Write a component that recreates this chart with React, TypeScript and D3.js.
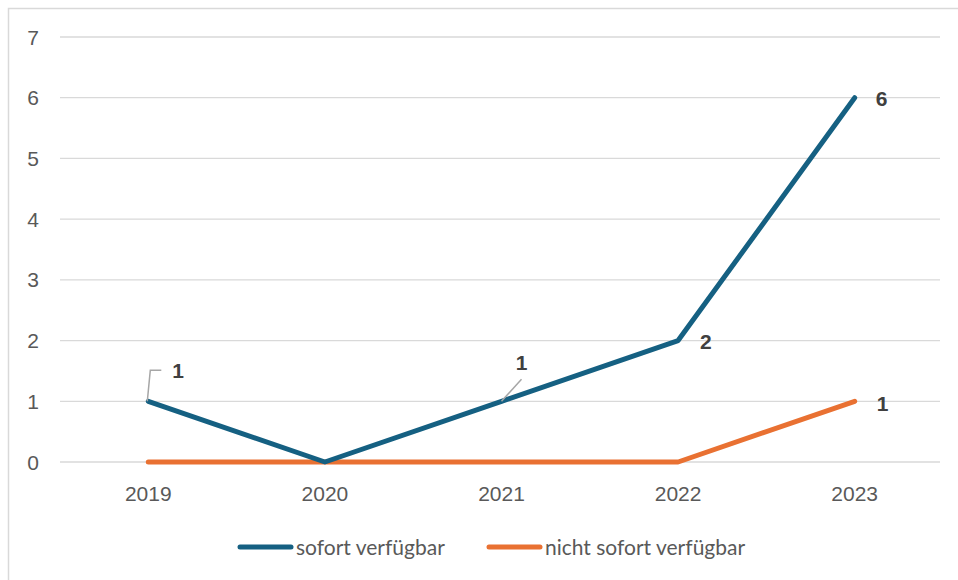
import React, { useEffect, useRef } from 'react';
import * as d3 from 'd3';

const years = ['2019', '2020', '2021', '2022', '2023'];
const sofort = [1, 0, 1, 2, 6];
const nichtSofort = [0, 0, 0, 0, 1];
const yTicks = [0, 1, 2, 3, 4, 5, 6, 7];

const BLUE = '#156082';
const ORANGE = '#E97132';
const FONT = '"Liberation Sans", Arial, sans-serif';

const App = () => {
  const svgRef = useRef<SVGSVGElement>(null);

  useEffect(() => {
    const width = 958;
    const height = 580;
    const marginLeft = 60;
    const marginRight = 15;
    const marginTop = 37;
    const plotBottom = 462;

    const svg = d3.select(svgRef.current);
    svg.selectAll('*').remove();

    svg.attr('width', width).attr('height', height);

    // chart border (only left/top visible)
    svg.append('path')
      .attr('d', `M8.5,${height} V8.5 H${width}`)
      .attr('fill', 'none')
      .attr('stroke', '#d9d9d9')
      .attr('stroke-width', 1.5);

    const x = d3.scaleBand()
      .domain(years)
      .range([marginLeft, width - marginRight]);

    const y = d3.scaleLinear()
      .domain([0, 7])
      .range([plotBottom, marginTop]);

    const cx = (d: string) => (x(d) as number) + x.bandwidth() / 2;

    // gridlines
    svg.append('g')
      .selectAll('line')
      .data(yTicks)
      .join('line')
      .attr('x1', marginLeft)
      .attr('x2', 940)
      .attr('y1', (d) => y(d))
      .attr('y2', (d) => y(d))
      .attr('stroke', '#d9d9d9')
      .attr('stroke-width', 1.3);

    // y labels
    svg.append('g')
      .selectAll('text')
      .data(yTicks)
      .join('text')
      .attr('x', 39)
      .attr('y', (d) => y(d))
      .attr('dy', '0.36em')
      .attr('text-anchor', 'end')
      .attr('fill', '#595959')
      .attr('font-family', FONT)
      .attr('font-size', 21)
      .text((d) => d);

    // x labels
    svg.append('g')
      .selectAll('text')
      .data(years)
      .join('text')
      .attr('x', (d) => cx(d))
      .attr('y', 501)
      .attr('text-anchor', 'middle')
      .attr('fill', '#595959')
      .attr('font-family', FONT)
      .attr('font-size', 21)
      .text((d) => d);

    const line = d3.line<number>()
      .x((_, i) => cx(years[i]))
      .y((d) => y(d));

    svg.append('path')
      .datum(nichtSofort)
      .attr('d', line)
      .attr('fill', 'none')
      .attr('stroke', ORANGE)
      .attr('stroke-width', 5)
      .attr('stroke-linecap', 'round')
      .attr('stroke-linejoin', 'round');

    svg.append('path')
      .datum(sofort)
      .attr('d', line)
      .attr('fill', 'none')
      .attr('stroke', BLUE)
      .attr('stroke-width', 5)
      .attr('stroke-linecap', 'round')
      .attr('stroke-linejoin', 'round');

    // leader lines
    const lead = svg.append('g')
      .attr('fill', 'none')
      .attr('stroke', '#a6a6a6')
      .attr('stroke-width', 1.5);
    const p0x = cx(years[0]);
    const p0y = y(sofort[0]);
    lead.append('path')
      .attr('d', `M${p0x - 1},${p0y} L${p0x + 2},${p0y - 31} H${p0x + 13}`);
    const p2x = cx(years[2]);
    const p2y = y(sofort[2]);
    lead.append('path')
      .attr('d', `M${p2x},${p2y} L${p2x + 20},${p2y - 22}`);

    // data labels
    const labels = [
      { x: p0x + 24, y: p0y - 31, t: sofort[0], a: 'start' },
      { x: p2x + 20, y: p2y - 39, t: sofort[2], a: 'middle' },
      { x: cx(years[3]) + 22, y: y(sofort[3]) + 1, t: sofort[3], a: 'start' },
      { x: cx(years[4]) + 21, y: y(sofort[4]) + 1, t: sofort[4], a: 'start' },
      { x: cx(years[4]) + 22, y: y(nichtSofort[4]) + 2, t: nichtSofort[4], a: 'start' },
    ];
    svg.append('g')
      .selectAll('text')
      .data(labels)
      .join('text')
      .attr('x', (d) => d.x)
      .attr('y', (d) => d.y)
      .attr('dy', '0.36em')
      .attr('text-anchor', (d) => d.a)
      .attr('fill', '#404040')
      .attr('font-weight', 'bold')
      .attr('font-family', FONT)
      .attr('font-size', 21)
      .text((d) => d.t);

    // legend
    const legend = [
      { name: 'sofort verfügbar', color: BLUE, x: 240 },
      { name: 'nicht sofort verfügbar', color: ORANGE, x: 489 },
    ];
    const lg = svg.append('g');
    legend.forEach((l) => {
      lg.append('line')
        .attr('x1', l.x)
        .attr('x2', l.x + 51)
        .attr('y1', 547)
        .attr('y2', 547)
        .attr('stroke', l.color)
        .attr('stroke-width', 5)
        .attr('stroke-linecap', 'round');
      lg.append('text')
        .attr('x', l.x + 56)
        .attr('y', 547)
        .attr('dy', '0.36em')
        .attr('fill', '#595959')
        .attr('font-family', 'Lato, sans-serif')
        .attr('font-size', 21)
        .text(l.name);
    });
  }, []);

  return (
    <svg ref={svgRef} style={{ position: 'absolute', left: 0, top: 0 }}></svg>
  );
};

export default App;
